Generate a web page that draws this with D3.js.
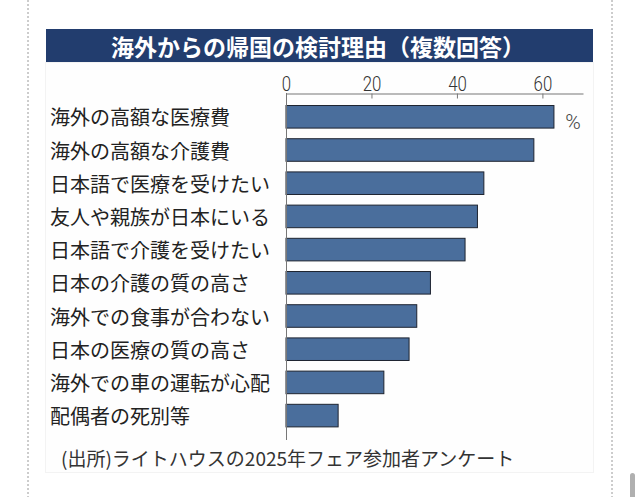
<!DOCTYPE html>
<html>
<head>
<meta charset="utf-8">
<script src="https://cdn.jsdelivr.net/npm/d3@7"></script>
<style>
  body { margin: 0; background: #fff; }
  svg { display: block; }
</style>
</head>
<body>
<div id="chart"></div>
<script>
// data
var categories = ["海外の高額な医療費", "海外の高額な介護費", "日本語で医療を受けたい", "友人や親族が日本にいる",
  "日本語で介護を受けたい", "日本の介護の質の高さ", "海外での食事が合わない", "日本の医療の質の高さ",
  "海外での車の運転が心配", "配偶者の死別等"];
var values = [62.7, 58.0, 46.3, 44.8, 41.9, 33.8, 30.6, 28.8, 22.9, 12.2];
var tickValues = [0, 20, 40, 60];
var title = "海外からの帰国の検討理由（複数回答）";
var source = "(出所)ライトハウスの2025年フェア参加者アンケート";

var W = 640, H = 497;
var jp = "'Noto Sans CJK JP', 'Noto Sans', sans-serif";
var num = "Roboto, 'Noto Sans', sans-serif";

var svg = d3.select("#chart")
  .append("svg")
    .attr("width", W)
    .attr("height", H);

// page dotted guides + scrollbar bit
[28, 612].forEach(function(x) {
  svg.append("line")
    .attr("x1", x).attr("x2", x).attr("y1", 0).attr("y2", H)
    .attr("stroke", "#9a9a9a").attr("stroke-width", 1)
    .attr("stroke-dasharray", "2,2");
});
svg.append("rect")
  .attr("x", 630).attr("y", 473).attr("width", 5).attr("height", 30)
  .attr("rx", 2.5).attr("fill", "#b0b0b0");

// faint panel
svg.append("rect")
  .attr("x", 45.5).attr("y", 62.5).attr("width", 548).attr("height", 410)
  .attr("fill", "#fefefe").attr("stroke", "#f3f3f3");

// title banner
svg.append("rect")
  .attr("x", 46).attr("y", 29).attr("width", 547).attr("height", 33)
  .attr("fill", "#223d6e");
svg.append("text")
  .attr("x", 318).attr("y", 46)
  .attr("text-anchor", "middle")
  .attr("dominant-baseline", "central")
  .style("font-family", jp).style("font-size", "23px").style("font-weight", "700")
  .attr("fill", "#fff")
  .text(title);

var x = d3.scaleLinear()
  .domain([0, 69.5])
  .range([286, 583]);

var y = d3.scaleBand()
  .domain(categories)
  .range([99.7, 431.7])
  .paddingInner(0.32)
  .paddingOuter(0.16);

// bars
svg.append("g")
  .selectAll("rect")
  .data(values)
  .enter().append("rect")
    .attr("x", x(0))
    .attr("y", function(d, i) { return y(categories[i]) + 0.5; })
    .attr("width", function(d) { return x(d) - x(0); })
    .attr("height", y.bandwidth())
    .attr("fill", "#4a6e9c")
    .attr("stroke", "#1e2430")
    .attr("stroke-width", 1);

// top axis
var xAxis = svg.append("g")
  .attr("transform", "translate(0,93.5)")
  .call(d3.axisBottom(x).tickValues(tickValues).tickSize(5).tickSizeOuter(0).tickPadding(0));
xAxis.select(".domain").attr("stroke", "#777");
xAxis.selectAll("line").attr("stroke", "#777");
xAxis.selectAll(".tick").filter(function(d) { return d === 0; }).select("line").remove();
// condensed look for the numbers
xAxis.selectAll("text")
  .attr("y", 0)
  .attr("dy", 0)
  .attr("transform", "translate(0,-10) scale(0.8,1)")
  .attr("dominant-baseline", "central")
  .style("font-family", num).style("font-size", "21px").style("font-weight", "300")
  .attr("fill", "#333");

// vertical axis line
svg.append("line")
  .attr("x1", x(0) + 0.5).attr("x2", x(0) + 0.5)
  .attr("y1", 93).attr("y2", 440)
  .attr("stroke", "#777");

// category labels
svg.append("g")
  .selectAll("text")
  .data(categories)
  .enter().append("text")
    .attr("x", 50)
    .attr("y", function(d) { return y(d) + y.bandwidth() / 2 + 0.5; })
    .attr("dominant-baseline", "central")
    .style("font-family", jp).style("font-size", "20px")
    .attr("fill", "#222")
    .text(function(d) { return d; });

// unit
svg.append("text")
  .attr("x", 573).attr("y", 122)
  .attr("text-anchor", "middle").attr("dominant-baseline", "central")
  .style("font-family", num).style("font-size", "21px").style("font-weight", "300")
  .attr("fill", "#444")
  .text("%");

// source
svg.append("text")
  .attr("x", 61).attr("y", 457)
  .attr("dominant-baseline", "central")
  .style("font-family", jp).style("font-size", "19px")
  .attr("fill", "#333")
  .text(source);
</script>
</body>
</html>
